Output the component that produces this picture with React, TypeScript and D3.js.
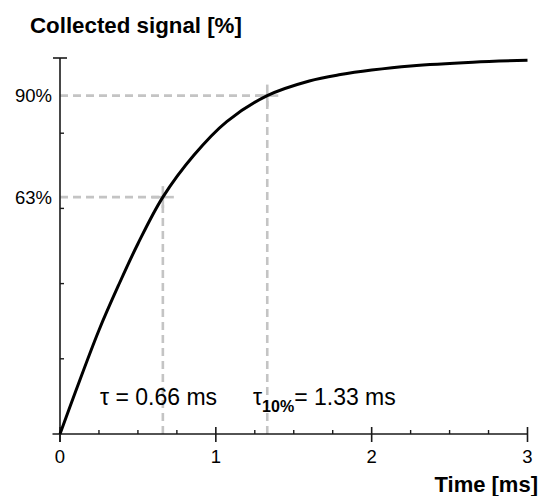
import React from "react";
import * as d3 from "d3";

const timeMs = [0, 0.1, 0.25, 0.375, 0.5, 0.66, 0.86, 1.07, 1.33, 1.6, 1.8, 2.0, 2.25, 2.65, 3.0];
const signalPct = [0, 11.3, 27.6, 39.5, 50.6, 63, 74.2, 83.1, 90, 93.9, 95.6, 96.8, 97.9, 98.9, 99.4];
const xMajorTicks = [0, 1, 2, 3];
const xMinorTicks = [0.25, 0.5, 0.75, 1.25, 1.5, 1.75, 2.25, 2.5, 2.75];
const yMinorTicks = [20, 40, 60, 80];
const markers = [
  { t: 0.66, v: 63, label: "63%" },
  { t: 1.33, v: 90, label: "90%" },
];

const W = 540;
const H = 496;
const FONT = "'Liberation Sans', Arial, Helvetica, sans-serif";

export default function App() {
  const x = d3.scaleLinear().domain([0, 3]).range([60, 527.5]);
  const y = d3.scaleLinear().domain([0, 100]).range([434, 58]);
  const pts: [number, number][] = timeMs.map((t, i) => [t, signalPct[i]]);
  const line = d3
    .line<[number, number]>()
    .x((d) => x(d[0]))
    .y((d) => y(d[1]))
    .curve(d3.curveCatmullRom.alpha(0.5));

  const axisColor = "#1a1a1a";
  const dashColor = "#c4c4c4";
  const cross = 11;

  return (
    <svg
      width={W}
      height={H}
      style={{ position: "absolute", left: 0, top: 0, background: "#fff" }}
    >
      <text x={30} y={33} fontFamily={FONT} fontWeight="bold" fontSize={22.3} fill="#000">
        Collected signal [%]
      </text>

      {markers.map((m, i) => (
        <g key={i}>
          <line
            x1={x(0)}
            x2={x(m.t)}
            y1={y(m.v)}
            y2={y(m.v)}
            stroke={dashColor}
            strokeWidth={2.6}
            strokeDasharray="8,5"
          />
          <line
            x1={x(m.t)}
            x2={x(m.t)}
            y1={y(0)}
            y2={y(m.v)}
            stroke={dashColor}
            strokeWidth={2.6}
            strokeDasharray="8,5"
          />
          <line
            x1={x(m.t) - cross}
            x2={x(m.t) + cross}
            y1={y(m.v)}
            y2={y(m.v)}
            stroke={dashColor}
            strokeWidth={2.6}
          />
          <line
            x1={x(m.t)}
            x2={x(m.t)}
            y1={y(m.v) - cross}
            y2={y(m.v) + cross}
            stroke={dashColor}
            strokeWidth={2.6}
          />
          <text
            x={52}
            y={y(m.v) + 6.5}
            textAnchor="end"
            fontFamily={FONT}
            fontSize={18.5}
            fill="#000"
          >
            {m.label}
          </text>
        </g>
      ))}

      <line x1={x(0) - 7.5} x2={x(3)} y1={y(0)} y2={y(0)} stroke={axisColor} strokeWidth={1.6} />
      <line x1={x(0)} x2={x(0)} y1={y(100)} y2={y(0) + 8} stroke={axisColor} strokeWidth={1.6} />
      <line x1={x(0) - 7} x2={x(0) + 7} y1={y(100)} y2={y(100)} stroke={axisColor} strokeWidth={1.6} />
      {yMinorTicks.map((v) => (
        <line key={v} x1={x(0)} x2={x(0) + 4} y1={y(v)} y2={y(v)} stroke={axisColor} strokeWidth={1.4} />
      ))}
      {xMajorTicks.map((t) => (
        <g key={t}>
          <line x1={x(t)} x2={x(t)} y1={y(0) - 7} y2={y(0) + 8} stroke={axisColor} strokeWidth={1.6} />
          <text
            x={x(t)}
            y={463}
            textAnchor="middle"
            fontFamily={FONT}
            fontSize={18.5}
            fill="#000"
          >
            {t}
          </text>
        </g>
      ))}
      {xMinorTicks.map((t) => (
        <line key={t} x1={x(t)} x2={x(t)} y1={y(0) - 4} y2={y(0)} stroke={axisColor} strokeWidth={1.4} />
      ))}

      <path d={line(pts) || ""} fill="none" stroke="#000" strokeWidth={3} strokeLinejoin="round" />

      <text x={100} y={405} fontFamily={FONT} fontSize={23} fill="#000">
        τ = 0.66 ms
      </text>
      <text x={253} y={405} fontFamily={FONT} fontSize={23} fill="#000">
        τ
        <tspan fontWeight="bold" fontSize={16} dy={7}>10%</tspan>
        <tspan dy={-7}>= 1.33 ms</tspan>
      </text>

      <text
        x={538}
        y={492}
        textAnchor="end"
        fontFamily={FONT}
        fontWeight="bold"
        fontSize={22}
        fill="#000"
      >
        Time [ms]
      </text>
    </svg>
  );
}
